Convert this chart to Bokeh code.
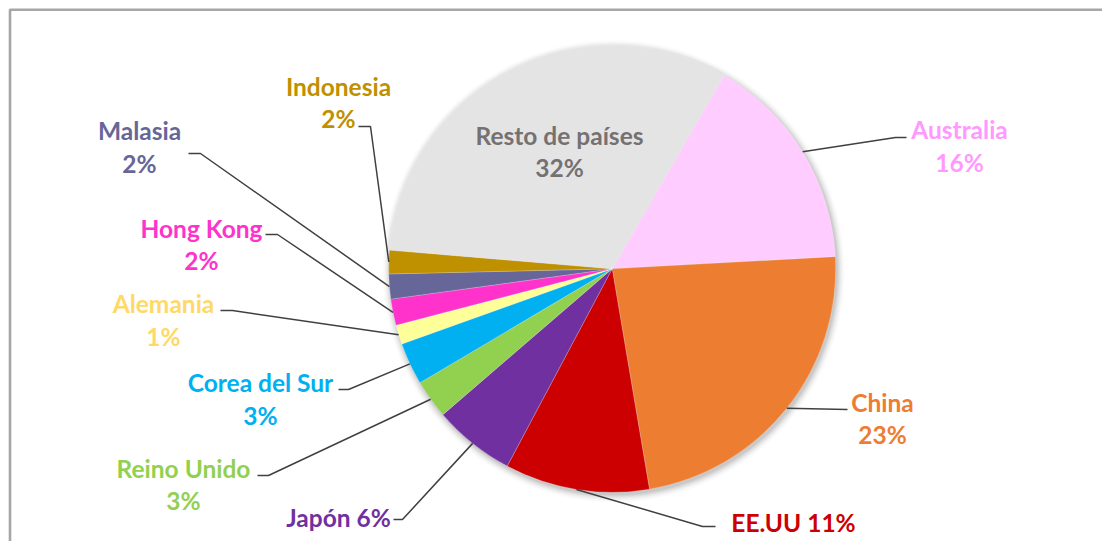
import numpy as np
from bokeh.plotting import figure
from bokeh.models import Range1d, ColumnDataSource
from bokeh.embed import file_html
from bokeh.resources import INLINE
from bokeh.core.properties import value

# ---------------- data ----------------
categories = ["Australia", "China", "EE.UU", "Japón", "Reino Unido", "Corea del Sur",
              "Alemania", "Hong Kong", "Malasia", "Indonesia", "Resto de países"]
shares = [15.8, 23.2, 10.45, 5.9, 2.8, 3.05, 1.4, 1.9, 1.8, 1.7, 32.0]
pct_labels = ["16%", "23%", "11%", "6%", "3%", "3%", "1%", "2%", "2%", "2%", "32%"]
slice_colors = ["#FFCCFF", "#ED7D31", "#CC0000", "#7030A0", "#92D050", "#00B0F0",
                "#FFFF99", "#FF33CC", "#666699", "#BF9000", "#E4E4E4"]
label_colors = ["#FF99FF", "#ED7D31", "#CC0000", "#7030A0", "#92D050", "#00B0F0",
                "#FFD966", "#FF33CC", "#666699", "#BF9000", "#767171"]

# ---------------- layout (page pixel coords) ----------------
W, H = 1102, 541
def X(px): return px
def Y(py): return H - py

CX, CY, R = X(611.7), Y(268.3), 223.5
START_CLOCK = 30.0  # degrees clockwise from 12 o'clock

# label layout: (single_line, x, y_name, y_pct)
label_pos = {
    "Australia": (False, 959, 129, 162),
    "China": (False, 882, 402, 434),
    "EE.UU": (True, 793, 522, None),
    "Japón": (True, 338, 517, None),
    "Reino Unido": (False, 183, 468, 500),
    "Corea del Sur": (False, 260, 382, 415),
    "Alemania": (False, 163, 303, 336),
    "Hong Kong": (False, 201, 228, 260),
    "Malasia": (False, 139, 130, 163),
    "Indonesia": (False, 338, 86, 118),
    "Resto de países": (False, 559, 135, 167),
}
# leader elbows (page coords): list of points after the slice edge
leader_elbows = {
    "Australia": [(895, 137), (906, 137)],
    "China": [(847, 409)],
    "EE.UU": [(702, 526), (715, 526)],
    "Japón": [(402, 519), (393, 519)],
    "Reino Unido": [(268, 475), (257, 475)],
    "Corea del Sur": [(348, 389), (338, 389)],
    "Alemania": [(232, 310), (220, 310)],
    "Hong Kong": [(277, 234), (265, 234)],
    "Malasia": [(200, 153), (188, 153)],
    "Indonesia": [(370, 126), (358, 126)],
}

p = figure(width=W, height=H, output_backend="svg", toolbar_location=None,
           x_range=Range1d(0, W), y_range=Range1d(0, H), min_border=0)
p.axis.visible = False
p.grid.visible = False
p.outline_line_color = None
p.background_fill_color = "white"

# frame (left and top edges visible)
p.line([9.5, 9.5, W + 20], [-20, Y(9.2), Y(9.2)], line_color="#A6A6A6", line_width=2.6)

# soft shadow
for k, a in enumerate([0.05, 0.045, 0.04, 0.03, 0.022, 0.015, 0.01]):
    p.circle(x=CX + 1.5, y=CY - 2.5, radius=R + 0.5 + k * 1.2, fill_color="black",
             fill_alpha=a, line_color=None)

# wedges
vals = np.array(shares, dtype=float)
fr = vals / vals.sum()
cum = np.concatenate([[0], np.cumsum(fr)]) * 360.0 + START_CLOCK
start_clock = cum[:-1]
end_clock = cum[1:]
start_math = np.radians(90 - start_clock)
end_math = np.radians(90 - end_clock)
src = ColumnDataSource(dict(start=start_math, end=end_math, color=slice_colors))
p.wedge(x=CX, y=CY, radius=R, start_angle="start", end_angle="end", direction="clock",
        fill_color="color", line_color="white", line_alpha=0.35, line_width=0.6, source=src)

# leader lines
mid_clock = (start_clock + end_clock) / 2
for i, cat in enumerate(categories):
    if cat not in leader_elbows:
        continue
    a = np.radians(mid_clock[i])
    sx = CX + R * np.sin(a)
    sy = CY + R * np.cos(a)
    xs = [sx] + [X(px) for px, py in leader_elbows[cat]]
    ys = [sy] + [Y(py) for px, py in leader_elbows[cat]]
    p.line(xs, ys, line_color="#404040", line_width=1.5)

# labels
tx, ty, tt, tc = [], [], [], []
for i, cat in enumerate(categories):
    single, lx, ly1, ly2 = label_pos[cat]
    if single:
        tx.append(X(lx)); ty.append(Y(ly1)); tt.append(cat + " " + pct_labels[i]); tc.append(label_colors[i])
    else:
        tx.append(X(lx)); ty.append(Y(ly1)); tt.append(cat); tc.append(label_colors[i])
        tx.append(X(lx)); ty.append(Y(ly2)); tt.append(pct_labels[i]); tc.append(label_colors[i])
lsrc = ColumnDataSource(dict(x=tx, y=ty, t=tt, c=tc))
p.text(x="x", y="y", text="t", text_color="c", source=lsrc, text_align="center",
       text_baseline="middle", text_font=value("Lato"), text_font_style="bold",
       text_font_size="24.5px")

open("out.html", "w").write(file_html(p, INLINE))
